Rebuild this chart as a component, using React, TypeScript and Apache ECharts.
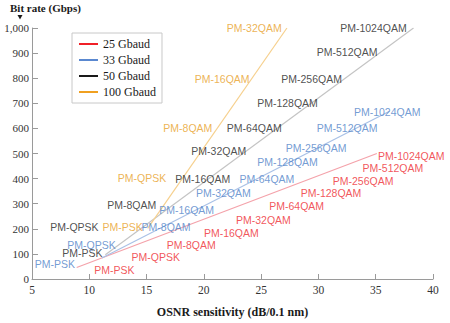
import React, { useEffect, useRef } from "react";
import * as echarts from "echarts";

// Modulation formats (labels)
const formats = [
  "PM-PSK", "PM-QPSK", "PM-8QAM", "PM-16QAM", "PM-32QAM",
  "PM-64QAM", "PM-128QAM", "PM-256QAM", "PM-512QAM", "PM-1024QAM",
];

// Label positions: OSNR (dB/0.1 nm) and bit rate (Gbps)
const osnr25 = [12.2, 15.8, 18.9, 22.4, 25.2, 28.1, 31.1, 33.9, 36.5, 38.1];
const rate25 = [34, 88, 137, 183, 237, 290, 344, 389, 443, 492];

const osnr33 = [7.0, 10.2, 16.7, 18.5, 21.7, 25.5, 27.3, 29.8, 32.5, 36.0];
const rate33 = [61, 137, 206, 275, 344, 397, 466, 523, 603, 664];

const osnr50 = [9.4, 8.7, 13.7, 19.9, 21.3, 24.4, 27.3, 29.4, 32.5, 34.8];
const rate50 = [103, 206, 294, 397, 508, 603, 702, 798, 905, 1000];

const osnr100 = [12.9, 14.6, 18.6, 21.6, 24.4];
const rate100 = [206, 401, 603, 798, 1000];

// Trend lines (start, end)
const trendOsnr25 = [8.9, 35.1];
const trendRate25 = [46, 500];
const trendOsnr33 = [11.1, 36.2];
const trendRate33 = [84, 668];
const trendOsnr50 = [11.4, 38.3];
const trendRate50 = [97, 1000];
const trendOsnr100 = [15.1, 27.25];
const trendRate100 = [202, 1000];

const seriesNames = ["25 Gbaud", "33 Gbaud", "50 Gbaud", "100 Gbaud"];
const strongColors = ["#f02028", "#5a88d0", "#1a1a1a", "#f0a020"];
const textColors = ["#ee2a30", "#4f82c8", "#222222", "#e8a028"];
const lineColors = ["#f4a2aa", "#a9c1e6", "#c4c4c4", "#f6d08e"];

const xTicks = { min: 5, max: 40, interval: 5 };
const yTicks = { min: 0, max: 1000, interval: 100 };

const serif = "Liberation Serif";
const sans = "Liberation Sans";

export default function App() {
  const ref = useRef<HTMLDivElement>(null);
  useEffect(() => {
    if (!ref.current) return;
    const chart = echarts.init(ref.current, null, { renderer: "svg" });

    const groups = [
      { osnr: osnr25, rate: rate25, tx: trendOsnr25, ty: trendRate25 },
      { osnr: osnr33, rate: rate33, tx: trendOsnr33, ty: trendRate33 },
      { osnr: osnr50, rate: rate50, tx: trendOsnr50, ty: trendRate50 },
      { osnr: osnr100, rate: rate100, tx: trendOsnr100, ty: trendRate100 },
    ];

    const lineSeries = groups.map((g, i) => ({
      type: "line",
      name: seriesNames[i],
      data: g.tx.map((x, k) => [x, g.ty[k]]),
      showSymbol: false,
      symbol: "none",
      lineStyle: { color: lineColors[i], width: 1.2 },
      itemStyle: { color: strongColors[i] },
      z: 2,
    }));

    const labelSeries = groups.map((g, i) => ({
      type: "scatter",
      name: seriesNames[i] + " labels",
      data: g.osnr.map((x, k) => ({ value: [x, g.rate[k]], name: formats[k] })),
      symbolSize: 0,
      clip: false,
      silent: true,
      label: {
        show: true,
        position: "inside",
        formatter: (p: any) => p.name,
        color: textColors[i],
        fontFamily: sans,
        fontSize: 10.5,
      },
      z: 5,
    }));

    chart.setOption({
      animation: false,
      backgroundColor: "#ffffff",
      grid: { left: 32, top: 28, width: 401, height: 262, containLabel: false },
      xAxis: {
        type: "value",
        ...xTicks,
        name: "OSNR sensitivity (dB/0.1 nm)",
        nameLocation: "middle",
        nameGap: 27,
        nameTextStyle: { fontFamily: serif, fontWeight: "bold", fontSize: 12, color: "#1a1a1a" },
        axisLine: { show: true, lineStyle: { color: "#9a9a9a", width: 1 } },
        axisTick: { show: true, inside: true, length: 5, lineStyle: { color: "#9a9a9a" } },
        axisLabel: { fontFamily: serif, fontSize: 11.5, color: "#333", margin: 5 },
        splitLine: { show: false },
      },
      yAxis: {
        type: "value",
        ...yTicks,
        axisLine: { show: true, lineStyle: { color: "#9a9a9a", width: 1 } },
        axisTick: { show: true, inside: true, length: 6, lineStyle: { color: "#9a9a9a" } },
        axisLabel: {
          fontFamily: serif,
          fontSize: 11,
          color: "#333",
          margin: 3,
          formatter: (v: number) => v.toLocaleString("en-US"),
        },
        splitLine: { show: false },
      },
      legend: {
        orient: "vertical",
        left: 72,
        top: 33,
        padding: [5, 6, 5, 7],
        itemGap: 4,
        itemWidth: 19,
        itemHeight: 2,
        icon: "rect",
        backgroundColor: "#ffffff",
        borderColor: "#c8c8c8",
        borderWidth: 1,
        textStyle: { fontFamily: serif, fontSize: 12, color: "#1a1a1a" },
        data: seriesNames.map((n, i) => ({
          name: n,
          itemStyle: { color: strongColors[i], opacity: 1 },
        })),
      },
      graphic: [
        {
          type: "text",
          left: 10,
          top: 2,
          style: {
            text: "Bit rate (Gbps)",
            fontFamily: serif,
            fontWeight: "bold",
            fontSize: 11,
            fill: "#1a1a1a",
          },
        },
        {
          type: "polygon",
          shape: { points: [[17.5, 15], [22.5, 15], [20, 19.5]] },
          style: { fill: "#1a1a1a" },
        },
      ],
      series: [...lineSeries, ...labelSeries],
    });

    return () => chart.dispose();
  }, []);

  return <div ref={ref} style={{ width: 450, height: 323, position: "absolute", left: 0, top: 0 }} />;
}
